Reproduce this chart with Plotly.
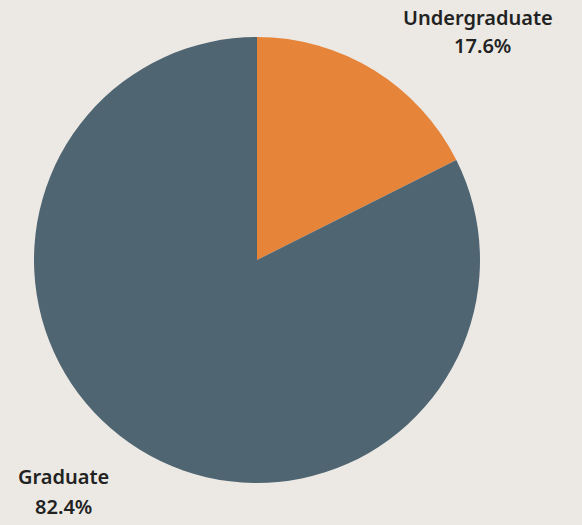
import plotly.graph_objects as go

categories = ["Undergraduate", "Graduate"]
values = [17.6, 82.4]
colors = ["#E6843A", "#4F6572"]

W, H = 582, 525
BG = "#ECE9E4"

fig = go.Figure(go.Pie(
    labels=categories,
    values=values,
    marker=dict(colors=colors, line=dict(width=0)),
    sort=False,
    direction="clockwise",
    rotation=0,
    textinfo="none",
    hoverinfo="label+percent",
    domain=dict(x=[34/W, 480/W], y=[1 - 483/H, 1 - 37/H]),
    showlegend=False,
))

font = dict(family="Noto Sans", size=20, color="#222222", weight=600)
name_pos = [(478, 17), (63, 476)]
pct_pos = [(482, 46), (63, 506)]
for cat, val, (nx, ny), (px, py) in zip(categories, values, name_pos, pct_pos):
    fig.add_annotation(
        x=nx/W, y=1 - ny/H, xref="paper", yref="paper",
        text=cat, showarrow=False, font=font,
        xanchor="center", yanchor="middle",
    )
    fig.add_annotation(
        x=px/W, y=1 - py/H, xref="paper", yref="paper",
        text=f"{val:.1f}%", showarrow=False, font=font,
        xanchor="center", yanchor="middle",
    )

fig.update_layout(
    width=W, height=H,
    margin=dict(l=0, r=0, t=0, b=0),
    paper_bgcolor=BG,
    plot_bgcolor=BG,
)
fig.write_html(
    "out.html",
    config={"displayModeBar": False},
    post_script=f"document.body.style.margin='0';document.body.style.background='{BG}';",
)
